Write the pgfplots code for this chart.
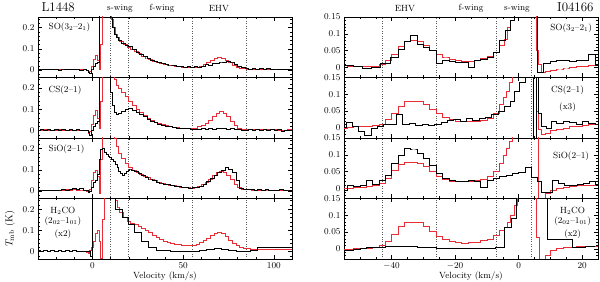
\documentclass[border=0pt]{standalone}
\usepackage{pgfplots}
\pgfplotsset{compat=1.18}
\definecolor{specred}{RGB}{232,45,55}
\newcommand{\vl}[1]{\draw[dotted, line width=0.45pt, black!65] ({axis cs:#1,0}|-{rel axis cs:0,0}) -- ({axis cs:#1,0}|-{rel axis cs:0,1});}
\pgfplotsset{
  panel/.style={
    scale only axis, width=254bp, height=60.5bp,
    axis line style={line width=0.6pt},
    tick align=inside, xtick pos=both, ytick pos=both,
    major tick length=4bp, minor tick length=2bp,
    every tick/.style={black, line width=0.4pt},
    tick label style={font=\small},
    clip=true, scaled ticks=false,
  },
  lpanel/.style={panel, xmin=-30, xmax=110, ymin=-0.035, ymax=0.25,
    xtick={0,50,100}, minor xtick={-30,-20,...,110},
    ytick={0,0.1,0.2}, yticklabels={0,0.1,0.2}, minor ytick={-0.02,0.02,0.04,0.06,0.08,0.12,0.14,0.16,0.18,0.22,0.24}},
  rpanel/.style={panel, xmin=-55, xmax=25, ymin=-0.03, ymax=0.15,
    xtick={-40,-20,0,20}, minor xtick={-55,-50,...,25},
    ytick={0,0.05,0.1,0.15}, yticklabels={0,0.05,0.1,0.15}, minor ytick={-0.02,-0.01,0.01,0.02,0.03,0.04,0.06,0.07,0.08,0.09,0.11,0.12,0.13,0.14}},
  blk/.style={black, line width=0.5pt, const plot mark mid, no marks},
  rd/.style={specred, line width=0.5pt, const plot mark mid, no marks},
}
\begin{document}
\begin{tikzpicture}
\path[use as bounding box] (0,0) rectangle (600bp,282bp);
% ---------------- LEFT: L1448 ----------------
\begin{axis}[lpanel, at={(38bp,265bp)}, anchor=north west, xticklabels={}]
\vl{10}\vl{20}\vl{55}\vl{85}
\addplot[rd] table {
-30 0.004
-28 0.002
-26 0.005
-24 0.003
-22 0.004
-20 0.002
-18 0.004
-16 0.003
-14 0.005
-12 0.002
-10 0.004
-8 0.003
-6 0.002
-4 0.003
-3 0.0
-2 -0.008
-1 -0.005
0 0.02
1 0.05
2 0.07
3 0.045
4 0.005
5 0.12
6 0.4
8 0.4
10 0.4
11 0.24
12 0.2
13 0.17
14 0.155
16 0.135
18 0.12
20 0.108
22 0.097
24 0.087
26 0.077
28 0.067
30 0.058
32 0.05
34 0.043
36 0.038
38 0.033
40 0.029
42 0.025
44 0.022
46 0.019
48 0.016
50 0.014
52 0.012
54 0.011
56 0.012
58 0.015
60 0.02
62 0.027
64 0.037
66 0.048
68 0.057
70 0.06
72 0.056
74 0.047
76 0.035
78 0.024
80 0.015
82 0.01
84 0.007
86 0.005
90 0.004
95 0.003
100 0.004
105 0.003
110 0.003
};
\addplot[blk] table {
-30 0.003
-28 0.005
-26 0.002
-24 0.006
-22 0.003
-20 0.004
-18 -0.002
-16 0.005
-14 0.003
-12 0.006
-10 0.002
-8 0.005
-6 0.001
-4 0.004
-3 0.0
-2 -0.008
-1 -0.015
0 0.005
1 0.02
2 0.03
3 0.035
4.5 0.4
6 0.4
8 0.4
9 0.4
10.5 0.25
11.5 0.2
12.5 0.17
13.5 0.155
15 0.14
17 0.125
19 0.115
21 0.112
23 0.098
25 0.085
27 0.075
29 0.065
31 0.055
33 0.048
35 0.042
37 0.037
39 0.033
41 0.029
43 0.025
45 0.022
47 0.019
49 0.016
51 0.014
53 0.016
55 0.011
57 0.018
59 0.013
61 0.02
63 0.027
65 0.024
67 0.033
69 0.031
71 0.038
73 0.036
75 0.042
77 0.038
79 0.028
81 0.018
83 0.011
85 0.007
87 0.004
89 0.007
91 0.003
93 0.008
95 0.004
97 0.007
99 0.002
101 0.005
103 0.003
105 0.006
107 0.002
109 0.004
111 0.003
};
\node[anchor=west, font=\small] at (rel axis cs:0.028,0.835) {SO(3$_2$--2$_1$)};
\end{axis}

\begin{axis}[lpanel, at={(38bp,204.5bp)}, anchor=north west, xticklabels={}]
\vl{10}\vl{20}\vl{55}\vl{85}
\addplot[rd] table {
-30 0.003
-28 0.001
-26 0.004
-24 0.002
-22 0.003
-20 0.001
-18 0.004
-16 0.002
-14 0.003
-12 0.001
-10 0.003
-8 0.002
-6 0.001
-4 0.002
-3 0.0
-2 -0.012
-1 -0.005
0 0.03
1 0.07
2 0.095
3 0.06
4 0.01
5 0.14
6 0.4
8 0.4
10 0.4
11.5 0.4
12.5 0.24
13.5 0.215
15 0.2
17 0.18
19 0.16
21 0.14
23 0.12
25 0.1
27 0.085
29 0.07
31 0.058
33 0.048
35 0.04
37 0.034
39 0.029
41 0.024
43 0.02
45 0.017
47 0.014
49 0.012
51 0.01
53 0.009
55 0.01
57 0.013
59 0.018
61 0.026
63 0.036
65 0.05
67 0.066
69 0.083
71 0.09
73 0.082
75 0.066
77 0.046
79 0.025
81 0.012
83 0.008
85 0.006
89 0.005
95 0.004
100 0.005
105 0.003
110 0.004
};
\addplot[blk] table {
-30 0.002
-28 0.004
-26 0.001
-24 0.005
-22 0.002
-20 0.005
-18 0.001
-16 0.004
-14 0.002
-12 0.005
-10 0.001
-8 0.004
-6 0.002
-4 0.003
-3 0.0
-2 -0.01
-1 -0.02
0 0.0
1 0.02
2 0.035
3 0.045
4.5 0.4
6 0.4
8 0.4
9.5 0.25
10.5 0.18
11.5 0.12
12.5 0.085
13.5 0.078
15 0.082
17 0.09
19 0.1
21 0.105
23 0.097
25 0.088
27 0.078
29 0.066
31 0.054
33 0.045
35 0.038
37 0.032
39 0.027
41 0.022
43 0.018
45 0.015
47 0.013
49 0.01
51 0.009
53 0.01
55 0.007
57 0.008
59 0.006
61 0.009
63 0.007
65 0.01
67 0.008
69 0.011
71 0.009
73 0.01
75 0.007
77 0.009
79 0.005
81 0.006
83 0.003
85 0.002
87 0.005
89 0.003
91 0.006
93 0.002
95 0.005
97 0.001
99 0.004
101 0.002
103 0.005
105 -0.001
107 0.003
109 0.002
111 0.004
};
\node[anchor=west, font=\small] at (rel axis cs:0.028,0.79) {CS(2--1)};
\end{axis}

\begin{axis}[lpanel, at={(38bp,144bp)}, anchor=north west, xticklabels={}]
\vl{10}\vl{20}\vl{55}\vl{85}
\addplot[rd] table {
-30 0.004
-28 0.002
-26 0.005
-24 0.003
-22 0.005
-20 0.004
-18 0.006
-16 0.004
-14 0.007
-12 0.006
-10 0.008
-8 0.006
-6 0.005
-4 0.004
-3 0.0
-2 -0.005
-1 0.01
0 0.05
1 0.09
2 0.1
3 0.07
4 -0.008
5 0.15
6 0.4
8 0.4
10 0.4
11.5 0.4
12.5 0.25
13.5 0.21
15 0.18
17 0.155
19 0.13
21 0.113
23 0.1
25 0.09
27 0.08
29 0.071
31 0.063
33 0.056
35 0.049
37 0.043
39 0.038
41 0.033
43 0.029
45 0.026
47 0.023
49 0.02
51 0.018
53 0.016
55 0.015
57 0.017
59 0.022
61 0.03
63 0.042
65 0.057
67 0.074
69 0.088
71 0.095
73 0.088
75 0.075
77 0.055
79 0.033
81 0.017
83 0.01
85 0.008
90 0.006
95 0.005
100 0.005
105 0.004
110 0.004
};
\addplot[blk] table {
-30 0.003
-28 0.005
-26 0.002
-24 0.006
-22 0.004
-20 0.006
-18 0.003
-16 0.008
-14 0.006
-12 0.01
-10 0.013
-8 0.009
-6 0.011
-4 0.006
-3 0.002
-2 -0.004
-1 0.0
0 0.02
1 0.04
2 0.05
3 0.08
4 0.15
5 0.195
6 0.2
7 0.185
8 0.175
9 0.165
10 0.16
11 0.15
12 0.14
13 0.125
14 0.11
15 0.095
16 0.082
17 0.076
18 0.082
19 0.093
20 0.1
21 0.104
22 0.1
24 0.095
26 0.086
28 0.076
30 0.066
32 0.058
34 0.05
36 0.043
38 0.038
40 0.033
42 0.03
44 0.026
46 0.023
48 0.021
50 0.019
52 0.017
54 0.015
56 0.017
58 0.019
60 0.023
62 0.03
64 0.045
66 0.06
68 0.075
70 0.088
72 0.1
74 0.11
76 0.105
78 0.09
80 0.05
82 0.015
84 0.01
86 0.008
88 0.01
90 0.006
92 0.009
94 0.004
96 0.007
98 0.003
100 0.006
102 0.004
104 0.007
106 0.003
108 0.005
110 0.004
};
\node[anchor=west, font=\small] at (rel axis cs:0.028,0.82) {SiO(2--1)};
\end{axis}

\begin{axis}[lpanel, at={(38bp,83.5bp)}, anchor=north west, xticklabels={0,50,100}]
\vl{10}\vl{20}\vl{55}\vl{85}
\addplot[rd] table {
-30 0.004
-28 0.002
-26 0.004
-24 0.003
-22 0.005
-20 0.003
-18 0.004
-16 0.002
-14 0.004
-12 0.003
-10 0.005
-8 0.003
-6 0.002
-4 0.003
-3 -0.002
-2 -0.006
-1 0.005
0 0.02
1 0.05
2 0.085
3 0.1
4 0.05
5 -0.03
6 0.15
7 0.4
10 0.4
12 0.4
13 0.24
14 0.21
16 0.185
18 0.16
20 0.145
22 0.135
24 0.127
26 0.12
28 0.11
30 0.1
32 0.09
34 0.078
36 0.066
38 0.057
40 0.05
42 0.045
44 0.04
46 0.036
48 0.033
50 0.03
52 0.028
54 0.028
56 0.031
58 0.036
60 0.043
62 0.052
64 0.063
66 0.075
68 0.086
70 0.09
72 0.084
74 0.07
76 0.055
78 0.04
80 0.028
82 0.02
84 0.016
86 0.014
88 0.013
92 0.012
96 0.011
100 0.011
105 0.01
110 0.01
};
\addplot[blk] table {
-30 0.004
-28 0.002
-26 0.005
-24 0.003
-22 0.004
-20 0.002
-18 0.005
-16 0.003
-14 0.004
-12 0.002
-10 0.004
-8 0.003
-6 0.002
-4 0.003
-2 0.0
-0.5 -0.02
0.5 0.4
4 0.4
8 0.4
11 0.4
14.5 0.2
18 0.16
21.5 0.13
25 0.09
29 0.05
33 0.02
37 0.008
41 0.004
45 0.003
49 0.002
53 0.003
57 0.002
61 0.004
65 0.012
69 0.015
73 0.013
77 0.007
81 0.003
85 0.0
89 0.004
93 0.02
97 0.018
101 0.022
105 0.02
109 0.02
};
\node[font=\small] at (rel axis cs:0.098,0.79) {H$_2$CO};
\node[font=\small] at (rel axis cs:0.098,0.63) {(2$_{02}$--1$_{01}$)};
\node[font=\small] at (rel axis cs:0.098,0.41) {(x2)};
\end{axis}

% ---------------- RIGHT: I04166 ----------------
\begin{axis}[rpanel, at={(344bp,265bp)}, anchor=north west, xticklabels={}]
\vl{-43}\vl{-26}\vl{-7}\vl{4}
\addplot[rd] table {
-55 0.005
-53 0.004
-51 0.003
-49 0.002
-47 0.002
-45 0.003
-43 0.008
-41 0.02
-39 0.04
-37 0.063
-35 0.077
-33 0.08
-31 0.078
-29 0.066
-27 0.052
-25 0.04
-23 0.031
-21 0.025
-19 0.021
-17 0.019
-15 0.019
-13 0.021
-11 0.026
-9 0.033
-7 0.045
-5 0.065
-4 0.085
-3 0.12
-2 0.14
-1 0.3
3 0.3
5 0.3
5.8 0.05
6.6 0.01
7.5 -0.015
9 -0.012
11 -0.008
13 -0.004
15 -0.001
17 0.001
19 0.003
21 0.004
23 0.005
25 0.006
};
\addplot[blk] table {
-56 0.005
-53.5 0.005
-50.5 0.004
-48 -0.003
-45 0.0
-42 0.012
-39 0.03
-37 0.055
-35 0.078
-33 0.095
-31 0.07
-29 0.06
-27 0.05
-25 0.012
-23 0.022
-21 0.018
-19 0.015
-17 0.016
-15 0.0
-13 0.02
-11 0.025
-9 0.03
-7 0.045
-5 0.08
-3.5 0.11
-2 0.14
-0.5 0.3
2 0.3
5 0.3
7 -0.015
8.8 0.012
11 0.018
13 0.02
15 0.02
17 0.018
19 0.02
21 0.022
23 0.04
25 0.005
};
\node[font=\small] at (rel axis cs:0.894,0.82) {SO(3$_2$--2$_1$)};
\end{axis}

\begin{axis}[rpanel, at={(344bp,204.5bp)}, anchor=north west, xticklabels={}]
\vl{-43}\vl{-26}\vl{-7}\vl{4}
\addplot[rd] table {
-55 0.0
-53 0.002
-51 0.004
-49 0.005
-47 0.006
-45 0.008
-43 0.012
-41 0.025
-39 0.045
-37 0.065
-35 0.078
-33 0.08
-31 0.078
-29 0.07
-27 0.056
-25 0.043
-23 0.033
-21 0.026
-19 0.021
-17 0.019
-15 0.019
-13 0.021
-11 0.024
-9 0.028
-7 0.045
-5.5 0.07
-4.5 0.09
-3.5 0.11
-2.5 0.135
-1.5 0.3
3 0.3
5.4 0.3
5.9 0.05
6.6 -0.005
7.5 -0.02
9 -0.015
11 -0.008
13 -0.004
15 0.0
17 0.004
19 0.006
21 0.008
23 0.01
25 0.01
};
\addplot[blk] table {
-55 0.003
-53.5 0.016
-51.5 0.005
-49.5 -0.01
-47.5 -0.022
-45.5 0.0
-43.5 0.005
-41.5 0.01
-39.5 0.012
-37.5 0.042
-35.5 0.012
-33.5 0.014
-31.5 0.008
-29.5 0.012
-27.5 0.008
-25.5 0.012
-23.5 0.016
-21.5 0.022
-19.5 0.027
-17.5 0.02
-15.5 0.03
-13.5 0.024
-11.5 0.03
-9.5 0.033
-7.5 0.042
-5.5 0.05
-3.5 0.065
-2 0.08
-0.8 0.11
1 0.135
3 0.3
4.4 0.3
5.1 -0.05
5.9 0.3
6.7 0.045
7.8 0.005
9.5 0.0
11 0.02
13 0.015
15 0.02
17 0.018
19 0.012
21 0.02
23 0.015
25 0.01
};
\node[font=\small] at (rel axis cs:0.88,0.79) {CS(2--1)};
\node[font=\small] at (rel axis cs:0.88,0.5) {(x3)};
\end{axis}

\begin{axis}[rpanel, at={(344bp,144bp)}, anchor=north west, xticklabels={}]
\vl{-43}\vl{-26}\vl{-7}\vl{4}
\addplot[rd] table {
-55 0.0
-53 0.0
-51 0.002
-49 0.003
-47 0.005
-45 0.008
-43 0.015
-41 0.03
-39 0.055
-37 0.072
-35 0.078
-33 0.078
-31 0.075
-29 0.065
-27 0.05
-25 0.035
-23 0.027
-21 0.022
-19 0.02
-17 0.02
-15 0.021
-13 0.023
-11 0.027
-9 0.035
-7 0.05
-5.5 0.075
-4.5 0.1
-3.5 0.12
-2.5 0.14
-1.5 0.3
3 0.3
5.8 0.3
6.6 -0.04
7.6 -0.03
9 -0.013
11 -0.006
13 0.0
15 0.004
17 0.006
19 0.008
21 0.009
23 0.01
25 0.012
};
\addplot[blk] table {
-55 -0.005
-53 0.01
-51 0.005
-49 0.008
-47 0.024
-45 0.012
-43 0.025
-41 0.04
-39 0.075
-37 0.1
-35 0.12
-33 0.118
-31 0.105
-29 0.09
-27 0.07
-25 0.045
-23 0.03
-21 0.025
-19 0.02
-17 0.022
-15 0.025
-13 0.02
-11 0.003
-9 0.025
-7 0.03
-5 0.035
-3 0.04
-1 0.045
1 0.048
3 0.062
5 0.033
6.5 0.02
7.5 -0.012
9.5 -0.012
11.5 0.025
13.5 0.015
15.5 0.01
17.5 0.008
19.5 0.012
21.5 0.015
23 0.02
25 0.012
};
\node[font=\small] at (rel axis cs:0.894,0.70) {SiO(2--1)};
\end{axis}

\begin{axis}[rpanel, at={(344bp,83.5bp)}, anchor=north west, xticklabels={$-40$,$-20$,0,20}]
\vl{-43}\vl{-26}\vl{-7}\vl{4}
\addplot[rd] table {
-55 -0.002
-53 0.0
-51 0.001
-49 0.002
-47 0.003
-45 0.005
-43 0.01
-41 0.022
-39 0.045
-37 0.068
-35 0.078
-33 0.08
-31 0.078
-29 0.068
-27 0.052
-25 0.038
-23 0.028
-21 0.022
-19 0.019
-17 0.018
-15 0.019
-13 0.021
-11 0.025
-9 0.03
-7 0.04
-5 0.055
-4 0.065
-3 0.08
-2 0.1
-1 0.13
0 0.3
3 0.3
5 0.3
6.0 0.035
6.8 -0.05
7.8 -0.05
9 -0.018
11 -0.005
13 0.003
15 0.005
17 0.006
19 0.007
21 0.008
23 0.008
25 0.008
};
\addplot[blk] table {
-55 -0.005
-53 -0.003
-51 0.0
-49 0.002
-47 0.004
-45 0.006
-43 0.006
-41 0.008
-39 0.008
-37 0.008
-35 0.008
-33 0.007
-31 0.006
-29 0.005
-27 0.004
-25 0.003
-23 0.003
-21 0.003
-19 0.003
-17 0.003
-15 0.003
-13 0.003
-11 0.002
-9 0.002
-6 0.005
-3.3 0.065
-1.3 0.09
0 0.3
4 0.3
8 0.3
10 0.03
12 0.03
14 0.03
16 0.03
18 0.005
20 0.006
22 0.007
24 0.007
};
\node[font=\small] at (rel axis cs:0.90,0.79) {H$_2$CO};
\node[font=\small] at (rel axis cs:0.90,0.63) {(2$_{02}$--1$_{01}$)};
\node[font=\small] at (rel axis cs:0.90,0.41) {(x2)};
\end{axis}

% ---------------- outer text ----------------
\node[anchor=west, font=\fontsize{13}{15}\selectfont] at (38bp,274.5bp) {L1448};
\node[anchor=east, font=\fontsize{13}{15}\selectfont] at (597bp,274.5bp) {I04166};
\node[font=\small] at (120bp,273.5bp) {s-wing};
\node[font=\small] at (162bp,273.5bp) {f-wing};
\node[font=\small] at (219bp,273.5bp) {EHV};
\node[font=\small] at (405bp,273.5bp) {EHV};
\node[font=\small] at (471bp,273.5bp) {f-wing};
\node[font=\small] at (517bp,273.5bp) {s-wing};
\node[rotate=90] at (10bp,53bp) {$T_{\mathrm{mb}}$ (K)};
\node[font=\small] at (165bp,5.5bp) {Velocity (km/s)};
\node[font=\small] at (471bp,5.5bp) {Velocity (km/s)};
\end{tikzpicture}
\end{document}
